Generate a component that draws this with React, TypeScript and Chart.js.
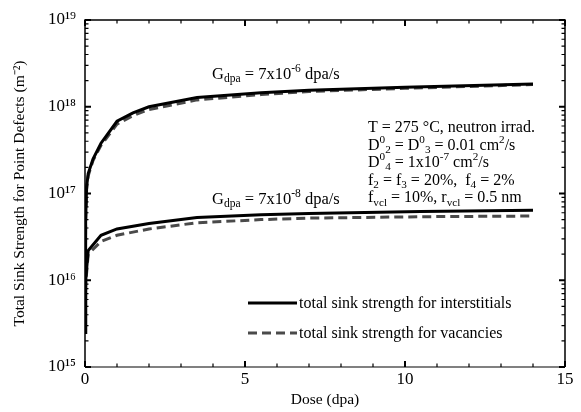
import React, { useEffect, useRef } from 'react';
import { Chart, registerables } from 'chart.js';

Chart.register(...registerables);

// ---- data ----
const doseHigh = [0, 0.02, 0.05, 0.1, 0.25, 0.5, 1, 1.5, 2, 3.5, 5.5, 7, 10, 14];
const sinkIntHigh = [2.5e15, 5e16, 1.2e17, 1.7e17, 2.5e17, 3.8e17, 6.8e17, 8.5e17, 1.0e18, 1.28e18, 1.45e18, 1.55e18, 1.68e18, 1.83e18];
const sinkVacHigh = [2.5e15, 4.5e16, 1.1e17, 1.6e17, 2.4e17, 3.6e17, 6.3e17, 7.9e17, 9.3e17, 1.2e18, 1.38e18, 1.5e18, 1.63e18, 1.8e18];

const doseLow = [0, 0.02, 0.1, 0.5, 1, 2, 3.5, 5.5, 7, 10.5, 14];
const sinkIntLow = [2.5e15, 1.0e16, 2.2e16, 3.3e16, 3.9e16, 4.5e16, 5.3e16, 5.7e16, 5.9e16, 6.2e16, 6.4e16];
const sinkVacLow = [2.5e15, 0.9e16, 2.0e16, 2.8e16, 3.3e16, 3.9e16, 4.6e16, 5.0e16, 5.2e16, 5.4e16, 5.5e16];

const xTickValues = [0, 5, 10, 15];
const yTickValues = [1e15, 1e16, 1e17, 1e18, 1e19];
const yTickLabels = ['10\u00B9\u2075', '10\u00B9\u2076', '10\u00B9\u2077', '10\u00B9\u2078', '10\u00B9\u2079'];

const legendLabels = ['total sink strength for interstitials', 'total sink strength for vacancies'];

type Seg = { t: string; m?: 'sub' | 'sup' };

const labelHigh: Seg[] = [{ t: 'G' }, { t: 'dpa', m: 'sub' }, { t: ' = 7x10' }, { t: '-6', m: 'sup' }, { t: ' dpa/s' }];
const labelLow: Seg[] = [{ t: 'G' }, { t: 'dpa', m: 'sub' }, { t: ' = 7x10' }, { t: '-8', m: 'sup' }, { t: ' dpa/s' }];
const infoLines: Seg[][] = [
  [{ t: 'T = 275 \u00B0C, neutron irrad.' }],
  [{ t: 'D' }, { t: '0', m: 'sup' }, { t: '2', m: 'sub' }, { t: ' = D' }, { t: '0', m: 'sup' }, { t: '3', m: 'sub' }, { t: ' = 0.01 cm' }, { t: '2', m: 'sup' }, { t: '/s' }],
  [{ t: 'D' }, { t: '0', m: 'sup' }, { t: '4', m: 'sub' }, { t: ' = 1x10' }, { t: '-7', m: 'sup' }, { t: ' cm' }, { t: '2', m: 'sup' }, { t: '/s' }],
  [{ t: 'f' }, { t: '2', m: 'sub' }, { t: ' = f' }, { t: '3', m: 'sub' }, { t: ' = 20%,  f' }, { t: '4', m: 'sub' }, { t: ' = 2%' }],
  [{ t: 'f' }, { t: 'vcl', m: 'sub' }, { t: ' = 10%, r' }, { t: 'vcl', m: 'sub' }, { t: ' = 0.5 nm' }],
];

const FONT = '"Liberation Serif", "Times New Roman", serif';

function drawRich(ctx: CanvasRenderingContext2D, x: number, y: number, segs: Seg[], size: number) {
  let cx = x;
  ctx.textBaseline = 'alphabetic';
  ctx.textAlign = 'left';
  ctx.fillStyle = '#000';
  for (const s of segs) {
    let fs = size;
    let dy = 0;
    if (s.m === 'sub') { fs = size * 0.7; dy = size * 0.2; }
    if (s.m === 'sup') { fs = size * 0.7; dy = -size * 0.42; }
    ctx.font = `${fs}px ${FONT}`;
    ctx.fillText(s.t, cx, y + dy);
    cx += ctx.measureText(s.t).width;
  }
}

const decorPlugin = {
  id: 'decor',
  afterDatasetsDraw(chart: any) {
    const { ctx, chartArea: a, scales } = chart;
    const xs = scales.x;
    const ys = scales.y;
    ctx.save();
    // frame
    ctx.strokeStyle = '#000';
    ctx.lineWidth = 1.5;
    ctx.beginPath();
    ctx.moveTo(a.left, a.bottom);
    ctx.lineTo(a.left, a.top);
    ctx.lineTo(a.right, a.top);
    ctx.lineTo(a.right, a.bottom);
    ctx.stroke();
    ctx.strokeStyle = '#808080';
    ctx.lineWidth = 2;
    ctx.beginPath();
    ctx.moveTo(a.left, a.bottom);
    ctx.lineTo(a.right, a.bottom);
    ctx.stroke();

    // x ticks (inward, top and bottom)
    ctx.strokeStyle = '#000';
    for (let v = 0; v <= 15; v++) {
      const px = xs.getPixelForValue(v);
      const len = v % 5 === 0 ? 6 : 3.5;
      ctx.lineWidth = v % 5 === 0 ? 2 : 1.2;
      ctx.beginPath();
      ctx.moveTo(px, a.bottom);
      ctx.lineTo(px, a.bottom - len);
      ctx.moveTo(px, a.top);
      ctx.lineTo(px, a.top + len);
      ctx.stroke();
    }
    // y ticks (inward, left and right)
    for (let d = 15; d <= 19; d++) {
      for (let m = 1; m <= 9; m++) {
        if (d === 19 && m > 1) break;
        const v = m * Math.pow(10, d);
        const py = ys.getPixelForValue(v);
        const major = m === 1;
        const len = major ? 6 : 3.5;
        ctx.lineWidth = major ? 2 : 1.2;
        ctx.beginPath();
        ctx.moveTo(a.left, py);
        ctx.lineTo(a.left + len, py);
        ctx.moveTo(a.right, py);
        ctx.lineTo(a.right - len, py);
        ctx.stroke();
      }
    }

    // annotations
    drawRich(ctx, 212, 79, labelHigh, 16.5);
    drawRich(ctx, 212, 204, labelLow, 16.5);
    const baseY = 132;
    infoLines.forEach((ln, i) => drawRich(ctx, 368, baseY + i * 17.6, ln, 16));

    // legend
    const dsets = chart.data.datasets;
    const legendItems = [
      { ds: dsets[0], y: 303 },
      { ds: dsets[1], y: 333 },
    ];
    legendItems.forEach((it, i) => {
      ctx.strokeStyle = it.ds.borderColor;
      ctx.lineWidth = it.ds.borderWidth;
      ctx.setLineDash(it.ds.borderDash || []);
      ctx.beginPath();
      ctx.moveTo(248, it.y);
      ctx.lineTo(297, it.y);
      ctx.stroke();
      ctx.setLineDash([]);
      ctx.fillStyle = '#000';
      ctx.font = `16px ${FONT}`;
      ctx.textBaseline = 'middle';
      ctx.textAlign = 'left';
      ctx.fillText(legendLabels[i], 299, it.y + 1);
    });
    ctx.restore();
  },
};

export default function App() {
  const ref = useRef<HTMLCanvasElement | null>(null);
  useEffect(() => {
    if (!ref.current) return;
    const solid = '#000000';
    const dashed = '#4a4a4a';
    const chart = new Chart(ref.current, {
      type: 'line',
      data: {
        datasets: [
          {
            label: legendLabels[0],
            data: doseHigh.map((x, i) => ({ x, y: sinkIntHigh[i] })),
            borderColor: solid, borderWidth: 3, pointRadius: 0, fill: false, tension: 0,
          },
          {
            label: legendLabels[1],
            data: doseHigh.map((x, i) => ({ x, y: sinkVacHigh[i] })),
            borderColor: dashed, borderWidth: 3, borderDash: [9, 5], pointRadius: 0, fill: false, tension: 0,
          },
          {
            label: legendLabels[0] + ' (low)',
            data: doseLow.map((x, i) => ({ x, y: sinkIntLow[i] })),
            borderColor: solid, borderWidth: 3, pointRadius: 0, fill: false, tension: 0,
          },
          {
            label: legendLabels[1] + ' (low)',
            data: doseLow.map((x, i) => ({ x, y: sinkVacLow[i] })),
            borderColor: dashed, borderWidth: 3, borderDash: [9, 5], pointRadius: 0, fill: false, tension: 0,
          },
        ] as any,
      },
      options: {
        animation: false,
        responsive: false,
        maintainAspectRatio: false,
        layout: { padding: { top: 20, right: 16, left: 0, bottom: 0 } },
        plugins: { legend: { display: false }, tooltip: { enabled: false } },
        scales: {
          x: {
            type: 'linear',
            min: 0,
            max: 15,
            afterBuildTicks: (s: any) => { s.ticks = xTickValues.map((v) => ({ value: v })); },
            afterFit: (s: any) => { s.height = 45; },
            ticks: { font: { family: FONT, size: 17 }, color: '#000', padding: 2, maxRotation: 0 },
            grid: { display: false, drawTicks: false },
            border: { display: false },
            title: { display: true, text: 'Dose (dpa)', font: { family: FONT, size: 15.5 }, color: '#000', padding: { top: 0, bottom: 3 } },
          },
          y: {
            type: 'logarithmic',
            min: 1e15,
            max: 1e19,
            afterBuildTicks: (s: any) => { s.ticks = yTickValues.map((v) => ({ value: v })); },
            afterFit: (s: any) => { s.width = 85; },
            ticks: {
              font: { family: FONT, size: 17 },
              color: '#000',
              padding: 9,
              callback: (_v: any, i: number) => yTickLabels[i],
            },
            grid: { display: false, drawTicks: false },
            border: { display: false },
            title: { display: true, text: 'Total Sink Strength for Point Defects (m\u207B\u00B2)', font: { family: FONT, size: 15.5 }, color: '#000', padding: { top: 11, bottom: 0 } },
          },
        },
      } as any,
      plugins: [decorPlugin],
    });
    return () => chart.destroy();
  }, []);
  return (
    <div style={{ position: 'fixed', left: 0, top: 0, width: 581, height: 412, background: '#fff' }}>
      <canvas ref={ref} width={581} height={412} style={{ width: 581, height: 412, display: 'block' }} />
    </div>
  );
}
